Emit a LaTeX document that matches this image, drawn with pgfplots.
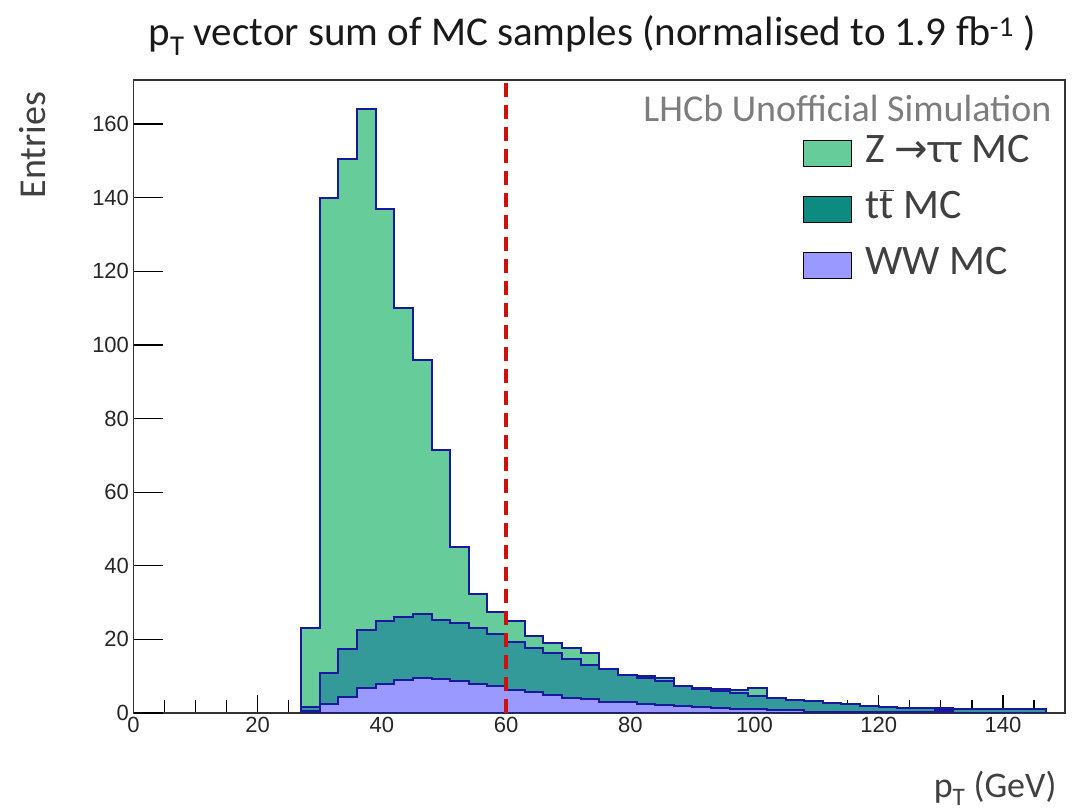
\documentclass[border=0pt]{standalone}
\usepackage{fontspec}
\setmainfont{Carlito}
\newfontfamily\arial{Liberation Sans}
\newfontfamily\dejavu{DejaVu Sans}
\usepackage{pgfplots}
\usepackage{pgfplotstable}
\pgfplotsset{compat=1.18}
\definecolor{zgreen}{RGB}{102,204,153}
\definecolor{ttfill}{RGB}{51,153,153}
\definecolor{ttleg}{RGB}{13,139,128}
\definecolor{wwfill}{RGB}{153,153,255}
\definecolor{navy}{RGB}{25,25,160}
\definecolor{dashred}{RGB}{204,17,17}
\definecolor{legtext}{RGB}{64,64,64}
\definecolor{lhcbgray}{RGB}{125,125,125}

\pgfplotstableread{
x z tt ww
27 23.2 1.5 0.6
30 140.0 10.9 2.4
33 150.4 17.3 4.4
36 164.0 22.5 6.7
39 137.0 25.1 8.0
42 110.0 26.0 9.0
45 96.0 26.8 9.4
48 71.5 25.4 9.2
51 45.0 24.5 8.7
54 32.2 23.0 8.0
57 27.4 21.4 7.3
60 25.0 19.4 6.3
63 20.8 17.6 5.8
66 19.0 16.2 4.9
69 17.6 14.7 4.2
72 16.2 13.0 3.8
75 11.9 11.9 3.1
78 10.3 10.3 2.9
81 10.0 9.4 2.5
84 9.4 8.8 2.2
87 7.3 7.3 1.8
90 6.9 6.4 1.6
93 6.6 6.0 1.4
96 6.3 5.5 1.2
99 6.7 4.5 1.0
102 4.0 4.0 0.8
105 3.5 3.5 0.7
108 3.3 3.3 0.4
111 2.6 2.6 0.3
114 2.4 2.4 0.2
117 1.9 1.9 0.2
120 1.5 1.5 0.2
123 1.45 1.45 0.2
126 1.45 1.45 0.2
129 1.35 0.8 0.2
132 1.0 1.0 0.1
135 1.0 1.0 0.1
138 1.0 1.0 0.1
141 1.0 1.0 0.1
144 1.0 1.0 0.1
147 1.0 1.0 0.1
}\histdata

\begin{document}
\begin{tikzpicture}
\begin{axis}[
  at={(133.5pt,97pt)}, anchor=south west,
  width=931.5pt, height=633pt, scale only axis,
  xmin=0, xmax=150, ymin=0, ymax=172,
  xtick={0,20,...,140}, minor xtick={5,10,...,145},
  ytick=\empty, minor ytick={5,10,...,170},
  extra y ticks={0,20,...,160},
  extra y tick style={major tick length=29pt, tick align=inside},
  major tick length=18pt, minor tick length=13pt,
  tick align=inside, xtick pos=left, ytick pos=left,
  tick style={line width=1.3pt, black},
  axis line style={line width=1.3pt, black!80},
  tick label style={font=\arial\fontsize{22}{26}\selectfont, text=black!85},
  xticklabel style={font=\arial\fontsize{22}{26}\selectfont, yshift=-1pt},
  yticklabel style={font=\arial\fontsize{22}{26}\selectfont, xshift=-1pt},
  /pgf/number format/assume math mode=true,
  legend image code/.code={\fill[#1] (0pt,-13pt) rectangle (48pt,13pt);},
  legend style={at={(axis description cs:0.7187,0.916)}, anchor=north west,
    draw=none, fill=none, inner sep=0pt, row sep=16pt,
    font=\fontsize{42}{50}\selectfont, text=legtext,
    nodes={inner sep=0pt, text height=29pt, text depth=11pt},
    /tikz/every odd column/.append style={column sep=14pt}},
  legend cell align=left,
]
\addplot[const plot, fill=zgreen, draw=navy, line width=2pt, forget plot] table[x=x,y=z]{\histdata} \closedcycle;
\addplot[const plot, fill=ttfill, draw=navy, line width=2pt, forget plot] table[x=x,y=tt]{\histdata} \closedcycle;
\addplot[const plot, fill=wwfill, draw=navy, line width=2pt, forget plot] table[x=x,y=ww]{\histdata} \closedcycle;
\addplot[dashred, line width=3.5pt, dash pattern=on 14pt off 8pt, forget plot] coordinates {(60,0) (60,172)};
\addlegendimage{fill=zgreen}
\addlegendentry{Z {\dejavu\fontsize{40}{44}\selectfont →}ττ MC}
\addlegendimage{fill=ttleg}
\addlegendentry{t$\overline{\hbox{t}}$ MC}
\addlegendimage{fill=wwfill}
\addlegendentry{WW MC}
\end{axis}
\node[anchor=base, font=\fontsize{41}{46}\selectfont, text=black!90] at (592pt,764pt)
  {p\textsubscript{T} vector sum of MC samples (normalised to 1.9 fb\textsuperscript{-1} )};
\node[anchor=base east, font=\fontsize{38}{44}\selectfont, text=lhcbgray] at (1055pt,688pt)
  {LHCb Unofficial Simulation};
\node[rotate=90, anchor=base east, font=\fontsize{38}{44}\selectfont, text=legtext] at (45pt,722pt) {Entries};
\node[anchor=base east, font=\fontsize{36}{40}\selectfont, text=legtext] at (1060pt,12pt) {p\textsubscript{T} (GeV)};
\pgfresetboundingbox
\path[use as bounding box] (0pt,0pt) rectangle (1073pt,810pt);
\end{tikzpicture}
\end{document}
